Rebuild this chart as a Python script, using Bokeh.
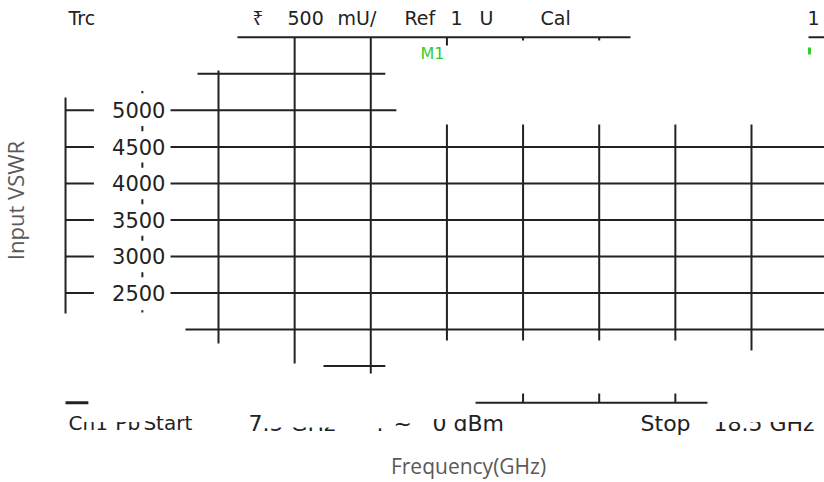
import math
from bokeh.plotting import figure
from bokeh.models import Range1d
from bokeh.core.properties import value
from bokeh.embed import file_html
from bokeh.resources import INLINE

# ---------------- data ----------------
# frequency grid (GHz) of the vertical divisions, display 7.5 .. 18.5 GHz
freq_grid = [8.6, 9.7, 10.8, 11.9, 13.0, 14.1, 15.2, 16.3]
# VSWR tick values and their labels
vswr_ticks = [5000, 4500, 4000, 3500, 3000, 2500]
tick_labels = ["5000", "4500", "4000", "3500", "3000", "2500"]
minor_ticks = [5250, 4750, 4250, 3750, 3250, 2750, 2250]
grid_top = 6000
grid_rows_extra = [5500, 2000, 1500, 1000]

header_words = ["Trc", "500", "mU/", "Ref", "1", "U", "Cal", "1"]
header_freq = [6.433, 9.597, 10.319, 11.287, 11.952, 12.371, 13.252, 17.109]
header_symbol = ["\u20b9"]
header_symbol_freq = [9.091]
footer_words = ["Ch1", "Pb", "Start", "7.5 GHz", ".", "~", "0 dBm", "Stop", "18.5 GHz"]
footer_freq = [6.433, 7.110, 7.515, 9.033, 10.883, 11.128, 11.692, 14.697, 15.751]

x_label = "Frequency(GHz)"
y_label = "Input VSWR"

INK = "#222222"
LW = 2
TXT_SHIFT = 100  # baseline compensation (data units)

p = figure(width=824, height=482,
           x_range=Range1d(5.4506, 17.3547), y_range=Range1d(-93, 6503.5),
           output_backend="svg", toolbar_location=None, min_border=0,
           x_axis_type=None, y_axis_type=None)
p.grid.visible = False
p.outline_line_color = None
p.background_fill_color = "white"
p.border_fill_color = "white"

x_end = p.x_range.end
axis_x = 6.39
lab_right = 7.834
lab_gap_end = 6.80

# ---- green marker label (drawn beneath the dark tick) ----
p.text(x=[11.518], y=[5682 + TXT_SHIFT], text=["M1"], text_font=value("DejaVu Sans"),
       text_font_size="16px", text_color="#33cc33", text_baseline="alphabetic")
p.segment(x0=[17.138], y0=[5764], x1=[17.138], y1=[5860], line_color="#33cc33", line_width=3)

# ---- horizontal segments ----
hx0, hx1, hy = [], [], []
hx0 += [8.874, 17.124]; hx1 += [14.552, x_end]; hy += [grid_top, grid_top]
hx0.append(8.297); hx1.append(11.01); hy.append(grid_rows_extra[0])
for v in vswr_ticks:
    hx0.append(axis_x); hx1.append(lab_gap_end); hy.append(v)
    hx0.append(7.907)
    hx1.append(11.17 if v == 5000 else x_end)
    hy.append(v)
hx0.append(8.123); hx1.append(x_end); hy.append(grid_rows_extra[1])
hx0.append(10.117); hx1.append(11.01); hy.append(grid_rows_extra[2])
hx0.append(12.313); hx1.append(15.664); hy.append(grid_rows_extra[3])
p.segment(x0=hx0, y0=hy, x1=hx1, y1=hy, line_color=INK, line_width=LW)
p.segment(x0=[axis_x], y0=[grid_rows_extra[3]], x1=[6.72], y1=[grid_rows_extra[3]],
          line_color=INK, line_width=3)

# ---- vertical segments ----
vx, vy0, vy1 = [], [], []
vx.append(axis_x); vy0.append(2220); vy1.append(5176)
bottoms = [1809, 1536, 1399, 1850, 1850, 1850, 1850, 1714]
tops = [5546, grid_top, grid_top, 4806, 4806, 4806, 4806, 4806]
for f, b, t in zip(freq_grid, bottoms, tops):
    vx.append(f); vy0.append(b); vy1.append(t)
for f, b in zip(freq_grid[3:6], [5887, 5955, 5955]):
    vx.append(f); vy0.append(b); vy1.append(grid_top)
for f in freq_grid[4:7]:
    vx.append(f); vy0.append(1000); vy1.append(1125)
p.segment(x0=vx, y0=vy0, x1=vx, y1=vy1, line_color=INK, line_width=LW)

# minor tick dots
mx = 7.5
half = [15, 35, 35, 35, 35, 35, 15]
p.segment(x0=[mx] * len(minor_ticks), y0=[m - h for m, h in zip(minor_ticks, half)],
          x1=[mx] * len(minor_ticks), y1=[m + h for m, h in zip(minor_ticks, half)],
          line_color=INK, line_width=2)

# ---- tick labels ----
p.text(x=[lab_right] * len(vswr_ticks), y=vswr_ticks, text=tick_labels,
       text_font=value("DejaVu Sans"), text_font_size="21px", text_color=INK,
       text_align="right", text_baseline="alphabetic")

# ---- header / footer texts ----
p.text(x=header_freq, y=[6168 + TXT_SHIFT] * len(header_words), text=header_words,
       text_font=value("DejaVu Sans"), text_font_size="19px", text_color=INK,
       text_baseline="alphabetic")
p.text(x=header_symbol_freq, y=[6168 + TXT_SHIFT], text=header_symbol,
       text_font=value("Noto Sans"), text_font_size="19px", text_color=INK,
       text_baseline="alphabetic")
p.text(x=footer_freq[:3], y=[619 + TXT_SHIFT] * 3, text=footer_words[:3],
       text_font=value("DejaVu Sans"), text_font_size="20px", text_color=INK,
       text_baseline="alphabetic")
p.text(x=footer_freq[3:], y=[619 + TXT_SHIFT] * (len(footer_words) - 3), text=footer_words[3:],
       text_font=value("DejaVu Sans"), text_font_size="22px", text_color=INK,
       text_baseline="alphabetic")

# white masks: the upper part of some footer letters is lost in the screenshot
p.quad(left=[6.645, 7.10, 7.50, 9.315, 11.663, 15.722],
       right=[7.069, 7.48, 7.70, 10.435, 12.19, x_end],
       bottom=[735, 735, 749, 660, 776, 735],
       top=[920, 920, 920, 920, 920, 920],
       fill_color="white", line_color=None)

# ---- axis titles ----
p.text(x=[12.212], y=[130], text=[x_label], text_font=value("Open Sans"),
       text_font_size="21px", text_color="#595959", text_align="center", text_baseline="middle")
p.text(x=[5.667], y=[3766], text=[y_label], text_font=value("Open Sans"),
       text_font_size="22px", text_color="#595959", text_align="center", text_baseline="middle",
       angle=math.pi / 2)

open("out.html", "w").write(file_html(p, INLINE))
